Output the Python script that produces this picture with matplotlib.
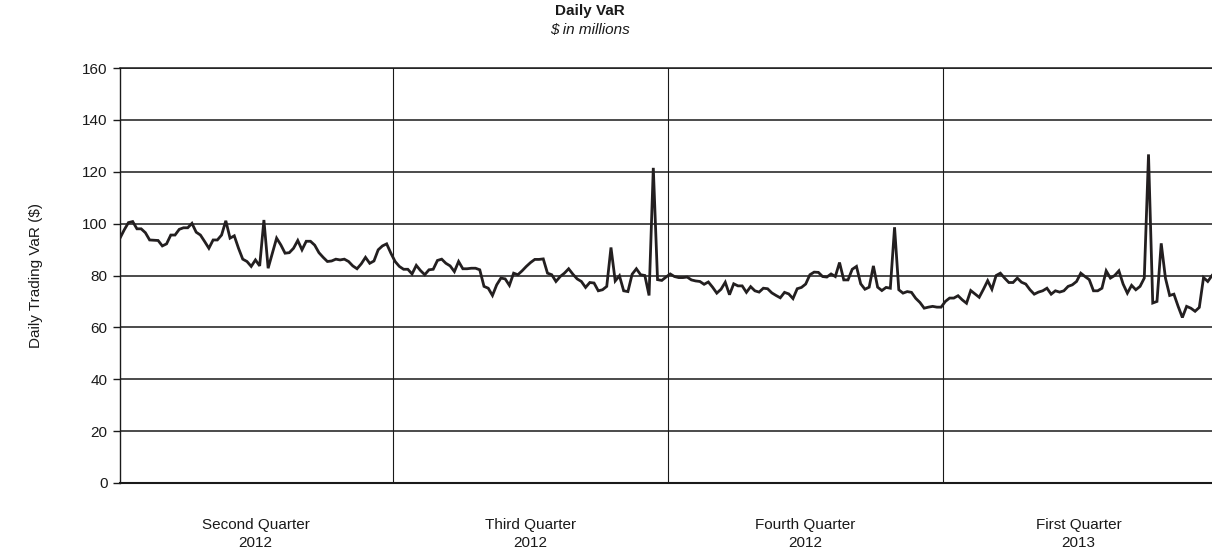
import matplotlib
matplotlib.use("Agg")
import matplotlib.pyplot as plt
import numpy as np

plt.rcParams['font.family'] = ['Liberation Sans', 'DejaVu Sans']

# Daily trading VaR ($ millions)
q2_2012 = [94.4, 97.6, 100.4, 100.8, 98.0, 98.0, 96.5, 93.7, 93.6, 93.5, 91.4, 92.2,
           95.6, 95.6, 97.8, 98.4, 98.4, 100.1, 96.7, 95.6, 93.1, 90.5, 93.7, 93.7,
           95.6, 101.1, 94.4, 95.3, 90.5, 86.3, 85.4, 83.5, 86.0, 83.7, 101.4, 82.8,
           88.6, 94.4, 91.8, 88.6, 88.8, 90.5, 93.5, 89.9, 93.2, 93.2, 91.7, 88.8,
           87.0, 85.4, 85.6, 86.3, 86.0, 86.3, 85.4, 83.7, 82.6, 84.5, 87.0, 84.7,
           85.6, 89.9, 91.4, 92.2, 88.6]
q3_2012 = [85.4, 83.5, 82.4, 82.4, 80.6, 83.9, 81.9, 80.3, 82.2, 82.4, 85.8, 86.3,
           84.7, 83.7, 81.5, 85.4, 82.6, 82.6, 82.8, 82.8, 82.2, 75.8, 75.1, 72.3,
           76.4, 79.0, 78.7, 76.2, 80.9, 80.3, 81.8, 83.5, 85.0, 86.2, 86.2, 86.4,
           80.9, 80.3, 77.7, 79.6, 80.9, 82.6, 80.5, 78.7, 77.7, 75.4, 77.3, 77.1,
           74.1, 74.5, 75.8, 90.8, 77.9, 79.9, 74.1, 73.8, 80.5, 82.6, 80.3, 80.0,
           72.3, 121.5, 78.4, 78.1, 79.4]
q4_2012 = [80.6, 79.6, 79.2, 79.2, 79.4, 78.3, 77.9, 77.7, 76.6, 77.5, 75.5, 73.2,
           74.7, 77.4, 72.6, 76.8, 76.0, 76.0, 73.5, 75.7, 74.1, 73.6, 75.1, 74.9,
           73.3, 72.3, 71.4, 73.5, 72.9, 71.1, 74.9, 75.4, 76.7, 80.3, 81.3, 81.2,
           79.6, 79.4, 80.6, 79.6, 85.0, 78.3, 78.3, 82.4, 83.5, 76.8, 74.7, 75.5,
           83.7, 75.5, 74.2, 75.4, 75.1, 98.6, 74.5, 73.2, 73.8, 73.5, 71.2, 69.6,
           67.4, 67.8, 68.1, 67.8, 67.8]
q1_2013 = [70.0, 71.3, 71.3, 72.2, 70.6, 69.3, 74.2, 72.9, 71.6, 74.7, 78.0, 74.7,
           80.0, 80.9, 79.0, 77.3, 77.3, 79.0, 77.4, 76.7, 74.5, 72.8, 73.6, 74.1,
           75.1, 72.8, 74.1, 73.6, 74.1, 75.8, 76.4, 77.7, 80.9, 79.6, 78.4, 74.1,
           74.1, 75.1, 81.8, 79.0, 80.0, 81.8, 76.7, 73.2, 76.2, 74.5, 75.8, 79.0,
           126.7, 69.4, 70.0, 92.4, 79.0, 72.3, 72.8, 68.1, 63.8, 68.1, 67.4, 66.2,
           67.7, 79.2, 77.7, 80.0]

quarters = [q2_2012, q3_2012, q4_2012, q1_2013]
quarter_labels = ["Second Quarter\n2012", "Third Quarter\n2012",
                  "Fourth Quarter\n2012", "First Quarter\n2013"]
y_ticks = [0, 20, 40, 60, 80, 100, 120, 140, 160]

values = np.concatenate(quarters)
days = np.arange(len(values))
sizes = np.array([len(q) for q in quarters])
ends = np.cumsum(sizes)
starts = ends - sizes
bounds = ends[:-1] - 0.5

fig = plt.figure(figsize=(12.12, 5.5), dpi=100)
ax = fig.add_axes([120/1212, 1 - 483/550, 1 - 120/1212, (483 - 68)/550])

for yv in y_ticks:
    ax.axhline(yv, color='#1a1a1a', lw=1.1, zorder=1)
for b in bounds:
    ax.axvline(b, color='#1a1a1a', lw=0.8, zorder=1)

ax.plot(days, values, color='#231f20', lw=2.0, zorder=3, solid_joinstyle='miter')

ax.set_xlim(0, len(values) - 1)
ax.set_ylim(0, 160)
ax.set_yticks(y_ticks)
ax.tick_params(axis='y', length=5, width=1, labelsize=11, pad=4, colors='#1a1a1a')
ax.set_xticks([])
for s in ['right']:
    ax.spines[s].set_visible(False)
for s in ['left', 'top', 'bottom']:
    ax.spines[s].set_color('#1a1a1a')
ax.spines['left'].set_linewidth(1.0)
ax.spines['bottom'].set_linewidth(1.5)
ax.spines['top'].set_linewidth(1.1)

centers = (starts + ends - 1) / 2.0
for c, lab in zip(centers, quarter_labels):
    ax.text(c, -0.085, lab, transform=ax.get_xaxis_transform(), ha='center', va='top',
            fontsize=11, linespacing=1.35, color='#1a1a1a')

ax.set_ylabel("Daily Trading VaR ($)", fontsize=11, labelpad=28, color='#1a1a1a')

fig.text(590/1212, 1 - 11/550, "Daily VaR", ha='center', va='center', fontsize=11,
         fontweight='bold', color='#1a1a1a')
fig.text(590/1212, 1 - 30/550, "$ in millions", ha='center', va='center', fontsize=11,
         style='italic', color='#1a1a1a')

fig.savefig("out.png", dpi=100)
